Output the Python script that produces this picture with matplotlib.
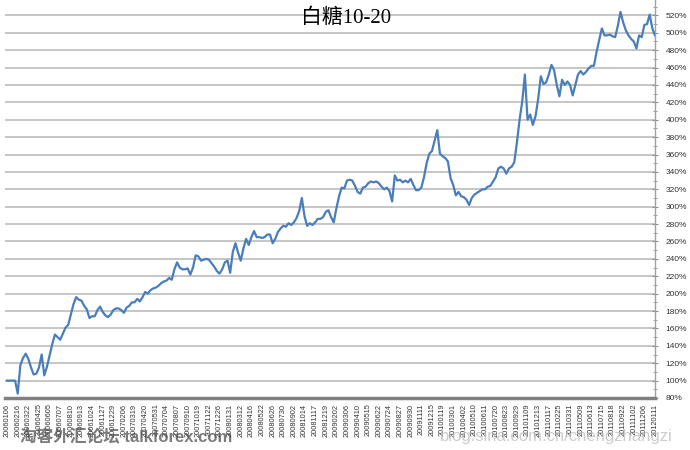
import matplotlib
matplotlib.use('Agg')
import matplotlib.pyplot as plt
import numpy as np
from matplotlib.ticker import MultipleLocator

title = '白糖10-20'

dates = ['20060106', '20060216', '20060322', '20060425', '20060605', '20060707',
         '20060810', '20060913', '20061024', '20061127', '20061229',
         '20070206', '20070319', '20070420', '20070531', '20070704', '20070807',
         '20070910', '20071019', '20071122', '20071226',
         '20080131', '20080312', '20080416', '20080522', '20080626', '20080730',
         '20080902', '20081014', '20081117', '20081219',
         '20090202', '20090306', '20090410', '20090515', '20090622', '20090724',
         '20090827', '20090930', '20091111', '20091215',
         '20100119', '20100301', '20100402', '20100510', '20100611', '20100720',
         '20100823', '20100929', '20101109', '20101213',
         '20110117', '20110225', '20110331', '20110509', '20110613', '20110715',
         '20110818', '20110922', '20111102', '20111206', '20120111']

# equity curve in % (4 samples per date label)
equity = [100, 100, 100, 100, 85, 118, 126, 131, 125, 115,
          107, 108, 115, 130, 106, 116, 129, 142, 153, 150,
          147, 154, 161, 164, 176, 188, 196, 193, 192, 186,
          182, 172, 174, 174, 181, 185, 179, 175, 173, 176,
          181, 183, 183, 181, 178, 184, 186, 190, 190, 194,
          191, 196, 202, 200, 204, 206, 207, 209, 212, 214,
          215, 218, 216, 228, 236, 230, 228, 228, 229, 222,
          230, 244, 243, 238, 239, 240, 239, 235, 231, 226,
          223, 228, 236, 238, 224, 248, 258, 247, 238, 252,
          263, 256, 265, 272, 265, 265, 264, 265, 268, 268,
          258, 263, 271, 275, 278, 277, 281, 279, 282, 287,
          295, 310, 289, 278, 281, 279, 282, 286, 286, 288,
          294, 296, 288, 282, 298, 312, 322, 321, 330, 331,
          330, 324, 317, 315, 322, 323, 327, 329, 328, 329,
          327, 323, 320, 322, 318, 306, 336, 330, 331, 328,
          330, 328, 332, 325, 319, 319, 322, 334, 350, 361,
          364, 376, 388, 361, 358, 356, 352, 333, 325, 313,
          317, 312, 311, 308, 302, 310, 314, 316, 318, 320,
          320, 323, 324, 329, 334, 344, 346, 344, 338, 344,
          346, 351, 374, 400, 421, 452, 400, 406, 394, 404,
          424, 450, 441, 443, 452, 463, 457, 440, 427, 446,
          440, 444, 440, 428, 440, 452, 456, 452, 455, 459,
          462, 462, 478, 492, 505, 497, 497, 498, 496, 495,
          508, 524, 512, 503, 497, 493, 490, 482, 497, 495,
          509, 510, 521, 505, 497]

x = np.linspace(0, len(dates) - 1, len(equity))

fig = plt.figure(figsize=(6.9, 4.5), dpi=100)
ax = fig.add_axes([5 / 690, 1 - 398 / 450, 650 / 690, 400 / 450])

ax.plot(x, equity, color='#4a7ebb', lw=1.6, zorder=3)

ax.set_xlim(-0.2, len(dates) - 1)
ax.set_ylim(80, 540)

yt = np.arange(80, 541, 20)
ax.set_yticks(yt)
ax.set_yticklabels([f'{v}%' if v < 540 else '' for v in yt],
                   family='Liberation Sans', fontsize=6, color='#333333')
ax.yaxis.set_minor_locator(MultipleLocator(10))
ax.yaxis.tick_right()
ax.tick_params(axis='y', which='major', direction='inout', length=5,
               color='#909090', pad=5)
ax.tick_params(axis='y', which='minor', direction='inout', length=3,
               color='#909090')
ax.grid(axis='y', color='#bcbcbc', lw=1.2, zorder=1)

ax.set_xticks(range(len(dates)))
ax.set_xticklabels(dates, rotation=90, family='Liberation Sans',
                   fontsize=5.3, color='#333333')
ax.tick_params(axis='x', length=0, pad=4)

for s in ['top', 'left']:
    ax.spines[s].set_visible(False)
ax.spines['bottom'].set_color('#808080')
ax.spines['bottom'].set_linewidth(2.5)
ax.spines['right'].set_color('#a0a0a0')
ax.spines['right'].set_linewidth(1)

fig.text(346 / 690, 1 - 18 / 450, title, ha='center', va='center',
         fontsize=15, family=['Liberation Serif', 'Noto Sans CJK SC'])

# watermarks
fig.text(20 / 690, 1 - 437 / 450, '淘客外汇论坛 talkforex.com', fontsize=12,
         fontweight='bold', color='#505050', alpha=0.75, va='center',
         family=['Liberation Sans', 'Noto Sans CJK SC'])
fig.text(440 / 690, 1 - 437 / 450, 'blog.sina.com.cn/chengzhangzi', fontsize=12,
         color='#c0c0c0', alpha=0.8, va='center', family='Liberation Sans')

fig.savefig('out.png', dpi=100)
